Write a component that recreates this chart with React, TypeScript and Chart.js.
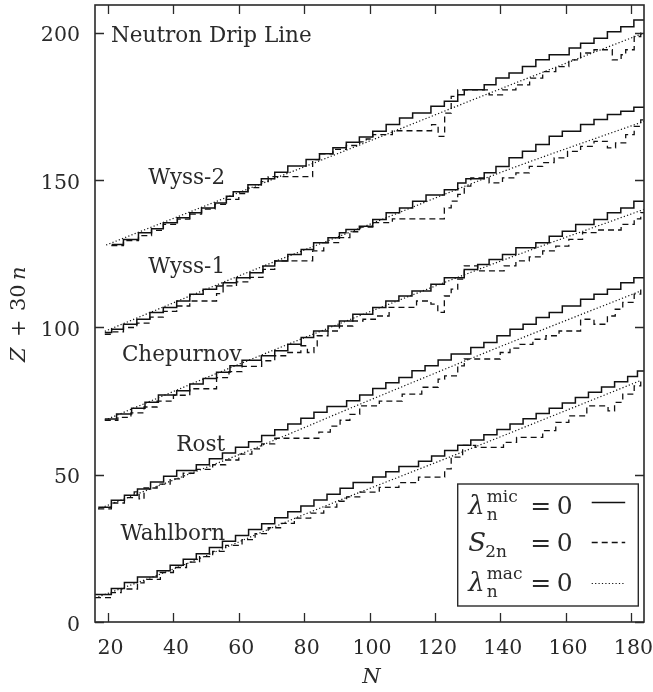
import React, { useEffect, useRef } from 'react';
import { Chart, registerables } from 'chart.js';

Chart.register(...registerables);

type Pt = [number, number];

// ---------- axes ----------
const xTicks = [20, 40, 60, 80, 100, 120, 140, 160, 180];
const yTicks = [0, 50, 100, 150, 200];

// ---------- models (shifted by 30 n) ----------
const models = ['Wahlborn', 'Rost', 'Chepurnov', 'Wyss-1', 'Wyss-2'];
const shiftN = [0, 1, 2, 3, 4];

// Wahlborn (n = 0): [N, Z]
const wahlbornMic: Pt[] = [[16,9.3],[21,11.4],[25,13.4],[29,15.3],[35,17.4],[39,19.3],[43,21.3],[47,23.2],[51,25.3],[55,27.4],[59,29.4],[63,31.4],[67,33.4],[71,35.4],[75,37.4],[79,39.4],[83,41.4],[87,43.4],[91,45.4],[95,47.4],[101,49.2],[105,51],[109,52.8],[115,54.6],[119,56.4],[123,58.2],[127,60],[131,61.8],[135,63.6],[139,65.4],[143,67.2],[147,69],[151,70.8],[155,72.6],[159,74.4],[163,76.2],[167,78],[171,79.8],[175,81.6],[179,83.4],[182,85.2],[184,85.2]];
const wahlbornS2n: Pt[] = [[16,8.3],[21,10],[24,11.2],[29,13.3],[31,14.5],[36,16.8],[40,18.5],[44,20.3],[48,22.2],[52,24],[56,26],[61,28],[65,30],[69,32],[73,33.5],[77,35.3],[82,37],[86,39],[90,41],[93,42.5],[97,44.1],[103,45.7],[109,47.3],[115,49.2],[123,52],[125,56],[128.5,60],[132.5,59.3],[141,61],[145,62.7],[153,65],[157,67.8],[161,70],[166.5,73.4],[173,71.7],[175,74.6],[177.5,77.4],[181,80.2],[183,81.9],[184,81.9]];
const wahlbornMac: Pt[] = [[17,8.5],[40,18],[80,36.5],[127,57.1],[183,82]];

// Rost (n = 1)
const rostMic: Pt[] = [[17,9],[21,11.3],[25,13],[29,15.2],[33,17.5],[37,19.5],[41,21.4],[47,23.4],[51,25.4],[55,27.4],[59,29.3],[63,31.2],[67,33.3],[71,35.3],[75,37.2],[79,39.2],[83,41.2],[87,43.2],[93,45.1],[97,47.1],[101,49.3],[105,51.2],[109,53],[113,55.3],[117,57],[121,59],[125,61],[131,63.2],[135,64.9],[139,67.2],[143,69.4],[147,71.1],[151,73.4],[155,75.1],[159,77.3],[164.6,79.6],[168.7,81.3],[172.8,83],[176.9,85.2],[180.9,86.9],[184,86.9]];
const rostS2n: Pt[] = [[17,8.4],[21,10.4],[25,12.2],[28,14.2],[29.5,11.8],[31,15.5],[35,16.8],[39,18.6],[43,20.5],[47,21.8],[52,23.4],[56,25],[60,27],[64,28.8],[67,30.5],[71,32.4],[84.5,34.5],[88,36.5],[91,38.5],[94,40.5],[97,43.4],[103,45],[110,47.4],[116,49.7],[121,52.5],[123,53.6],[127,57],[129,59.3],[140,61.5],[143,63],[146,64.3],[150,66],[154,67.2],[158,68.8],[164.6,72.8],[168.7,71.1],[172.8,73.9],[175.2,76.2],[177.5,78.5],[181,81.3],[183,83],[184,83]];
const rostMac: Pt[] = [[17,8.4],[40,18.2],[60,26.8],[100,45.3],[140,63.5],[183,82.4]];

// Chepurnov (n = 2)
const chepurnovMic: Pt[] = [[19,8.9],[22.6,10.6],[27.2,12.6],[31.3,14.6],[35.4,17.1],[41,18.5],[45,20.8],[49.1,22.7],[53.2,24.8],[57.3,27],[61,28.9],[66.9,30.4],[71,32.1],[75,34.3],[79.1,36.6],[82.9,38.8],[87.3,40.5],[90.8,42.2],[94.9,44.5],[101,46.8],[105,49],[109,50.7],[113,52.4],[118.8,54.7],[122.9,56.9],[129,59.7],[133.1,61.4],[136.6,63.1],[140.7,64.8],[144.8,67.1],[150.9,68.8],[155,71],[159,72.7],[163.1,75],[168.7,76.7],[172.8,79],[176.9,80.6],[180.9,82.9],[184,82.9]];
const chepurnovS2n: Pt[] = [[19,8.5],[23,9.5],[27,11],[31,13],[35,15],[40,17],[45,19.2],[53.2,23],[57,25],[61,26.8],[67,28.7],[71,30.4],[75,31.5],[79,33.8],[81,31.5],[83,33.8],[84,37.2],[87.3,38.8],[90.8,40.5],[94.9,42.2],[98,42.8],[101.8,43.9],[106,46.8],[114.4,49],[118.8,47.9],[120.9,45.1],[122.9,50.7],[125,53],[127,56.4],[129,60.9],[133.1,59.2],[141.2,60.9],[144.8,62.6],[148.9,64],[153,66],[157,67.6],[161,69.9],[165.2,72.2],[169.3,73.1],[177,75],[181,76.9],[183,79],[184,79]];
const chepurnovMac: Pt[] = [[19,8.5],[60,27.5],[97,44],[140,62.5],[184,80.1]];

// Wyss-1 (n = 3)
const wyss1Mic: Pt[] = [[19,8.3],[21.1,9.4],[24.7,11.1],[28.8,12.8],[32.8,15.1],[36.9,16.8],[41,19],[45,21.3],[49.1,23],[53.2,24.1],[55.2,25.2],[59.3,26.9],[63.4,28.6],[67.4,30.9],[71,32.6],[75,34.8],[79.1,36.5],[82.9,38.8],[87.3,40.5],[90.8,42.2],[92.8,43.3],[96.9,44.4],[101,46.7],[105.1,49],[109.2,50.6],[113.2,52.9],[117.3,55],[122.9,56.8],[127,59.1],[129.5,60.5],[135.1,62.5],[138.7,64.7],[142.7,67.6],[146.8,69.8],[150.9,72.1],[155,74.9],[159,76.6],[164.6,78.9],[168.7,80.6],[172.8,82.3],[176.9,83.4],[180.9,84.8],[184,84.8]];
const wyss1S2n: Pt[] = [[19,7.7],[21,8.5],[24.7,10],[28.8,11.5],[32.8,13.5],[36.9,15.5],[41,17.3],[45,19],[53.2,21.5],[55.2,24.1],[59.3,25.5],[63.4,27],[67.4,29.7],[71,32.6],[82.6,36],[86,38.8],[90.8,40.5],[94,42.5],[97,44.1],[101,45.6],[107,46.9],[122.9,50.6],[125,52.9],[127,55.2],[129,58],[131,60.8],[136.6,59.1],[140.7,60.8],[144.8,62.5],[148.9,64.7],[153,66],[156.5,67.6],[160.6,69.8],[164.6,71.5],[168.7,73.2],[172.8,71],[175.3,72.7],[178.4,75.5],[181,78.3],[183,80.5],[184,80.5]];
const wyss1Mac: Pt[] = [[19,8.7],[60,27.5],[100,45],[140,62.6],[184,80]];

// Wyss-2 (n = 4)
const wyss2Mic: Pt[] = [[21.1,8.2],[24.7,9.9],[29.3,12.2],[33.3,13.5],[36.9,15.6],[41.2,17.3],[45,19],[48.6,20.6],[52.7,22.3],[56.2,24.6],[58.3,26.1],[62.8,28.5],[66.9,30.5],[71,32.7],[75,34.8],[80.6,37],[84.7,39],[88.8,41],[92.9,42.9],[96.9,44.7],[101,46.6],[105.1,48.9],[109.2,51.1],[113.2,52.8],[118.8,55.1],[122.9,56.8],[127,59],[129,60.7],[135.1,62.4],[138.7,64.7],[142.7,66.4],[146.8,68.6],[150.9,70.9],[155,72.6],[161.1,74.9],[164.6,76.5],[168.7,78.2],[172.8,80.4],[176.9,82.1],[180.9,84.4],[184,84.4]];
const wyss2S2n: Pt[] = [[21,7.8],[24.7,9.5],[29.3,11.2],[33.3,13],[36.9,15],[41.2,16.8],[45,18.5],[48.6,20.2],[52.7,21.8],[56.2,23.5],[60,25.5],[62.8,27.5],[66.9,29.5],[69,31.2],[82.6,37],[84.7,39],[88.8,40.5],[92.9,41.8],[97,43],[99,44],[101,45.5],[107,46.8],[119,48.9],[121,44.9],[123,52.8],[125,58.5],[127,60.7],[136.6,59],[140.7,60.7],[144.8,62.4],[149,64.7],[153,66.9],[157,68.6],[161,70.9],[164.6,73.2],[168.7,74.3],[174.3,70.9],[177,72.6],[178.4,74.3],[181,78.8],[183,79.9],[184,79.9]];
const wyss2Mac: Pt[] = [[19.4,8],[60,25.8],[100,43.3],[140,61],[184,80]];

const micSets = [wahlbornMic, rostMic, chepurnovMic, wyss1Mic, wyss2Mic];
const s2nSets = [wahlbornS2n, rostS2n, chepurnovS2n, wyss1S2n, wyss2S2n];
const macSets = [wahlbornMac, rostMac, chepurnovMac, wyss1Mac, wyss2Mac];

// label anchors in data coords: [text, N, value, align]
const labelAnchors: [string, number, number, CanvasTextAlign][] = [
  ['Neutron Drip Line', 20.9, 197, 'left'],
  ['Wyss-2', 55.8, 148.7, 'right'],
  ['Wyss-1', 55.8, 118.5, 'right'],
  ['Chepurnov', 60.9, 88.6, 'right'],
  ['Rost', 55.8, 58.2, 'right'],
  ['Wahlborn', 55.8, 27.8, 'right'],
];

const INK = '#2a2a2a';
const LINE = '#111111';
const FAMILY = "'DejaVu Serif', serif";

const shifted = (pts: Pt[], n: number) => pts.map(([x, z]) => ({ x, y: z + 30 * n }));

const decor = {
  id: 'decor',
  afterDatasetsDraw(chart: any) {
    const { ctx, chartArea: a, scales } = chart;
    const xs = scales.x;
    const ys = scales.y;
    ctx.save();
    // frame
    ctx.strokeStyle = INK;
    ctx.lineWidth = 1.6;
    ctx.setLineDash([]);
    ctx.strokeRect(a.left, a.top, a.right - a.left, a.bottom - a.top);
    // inward ticks on all sides
    ctx.lineWidth = 1.3;
    ctx.beginPath();
    const tl = 9;
    for (const t of xTicks) {
      const px = Math.round(xs.getPixelForValue(t)) + 0.5;
      ctx.moveTo(px, a.bottom); ctx.lineTo(px, a.bottom - tl);
      ctx.moveTo(px, a.top); ctx.lineTo(px, a.top + tl);
    }
    for (const t of yTicks) {
      const py = Math.round(ys.getPixelForValue(t)) + 0.5;
      ctx.moveTo(a.left, py); ctx.lineTo(a.left + tl, py);
      ctx.moveTo(a.right, py); ctx.lineTo(a.right - tl, py);
    }
    ctx.stroke();

    // tick labels
    ctx.fillStyle = INK;
    ctx.font = `20.5px ${FAMILY}`;
    ctx.textBaseline = 'alphabetic';
    ctx.textAlign = 'center';
    for (const t of xTicks) ctx.fillText(String(t), xs.getPixelForValue(t) + 2.5, a.bottom + 32);
    ctx.textAlign = 'right';
    for (const t of yTicks) ctx.fillText(String(t), a.left - 15, ys.getPixelForValue(t) + 8.5);

    // x title
    ctx.textAlign = 'center';
    ctx.font = `italic 21px ${FAMILY}`;
    ctx.fillText('N', (a.left + a.right) / 2 + 2, a.bottom + 61);

    // y title (rotated, mixed styles)
    ctx.save();
    ctx.translate(25, 362);
    ctx.rotate(-Math.PI / 2);
    ctx.textAlign = 'left';
    ctx.font = `italic 21px ${FAMILY}`;
    ctx.fillText('Z', 0, 0);
    ctx.font = `21px ${FAMILY}`;
    ctx.fillText('+', 25, 0);
    ctx.fillText('30', 51, 0);
    ctx.font = `italic 21px ${FAMILY}`;
    ctx.fillText('n', 82, 0);
    ctx.restore();

    // model labels
    ctx.font = `21.5px ${FAMILY}`;
    for (const [txt, n, v, al] of labelAnchors) {
      ctx.textAlign = al;
      ctx.fillText(txt, xs.getPixelForValue(n), ys.getPixelForValue(v));
    }

    // legend box
    const bw = 180.6, bh = 122;
    const bx = a.right - 5.7 - bw;
    const by = a.bottom - 16 - bh;
    ctx.fillStyle = '#ffffff';
    ctx.fillRect(bx, by, bw, bh);
    ctx.strokeStyle = INK;
    ctx.lineWidth = 1.4;
    ctx.strokeRect(bx, by, bw, bh);
    ctx.fillStyle = INK;
    ctx.textAlign = 'left';
    const rows = [
      { main: 'λ', sup: 'mic', sub: 'n', base: 30, sample: 18, dash: [] as number[], w: 1.5 },
      { main: 'S', sup: '', sub: '2n', base: 67, sample: 58, dash: [6, 4], w: 1.3 },
      { main: 'λ', sup: 'mac', sub: 'n', base: 107, sample: 99, dash: [1.2, 2.2], w: 1.2 },
    ];
    for (const r of rows) {
      const yb = by + r.base;
      ctx.font = `italic 26px ${FAMILY}`;
      ctx.fillText(r.main, bx + 10.5, yb);
      ctx.font = `17px ${FAMILY}`;
      if (r.sup) ctx.fillText(r.sup, bx + 29, yb - 12);
      ctx.fillText(r.sub, bx + (r.main === 'S' ? 27.5 : 29), yb + 6);
      ctx.font = `25px ${FAMILY}`;
      ctx.fillText('=', bx + 72.5, yb);
      ctx.fillText('0', bx + 99, yb);
      ctx.save();
      ctx.strokeStyle = LINE;
      ctx.lineWidth = r.w;
      ctx.setLineDash(r.dash);
      ctx.beginPath();
      ctx.moveTo(bx + 134, by + r.sample + 0.5);
      ctx.lineTo(bx + 167.5, by + r.sample + 0.5);
      ctx.stroke();
      ctx.restore();
    }
    ctx.restore();
  },
};

export default function App() {
  const ref = useRef<HTMLCanvasElement | null>(null);
  useEffect(() => {
    const canvas = ref.current;
    if (!canvas) return;
    let alive = true;
    const datasets: any[] = [];
    models.forEach((name, i) => {
      const n = shiftN[i];
      datasets.push({
        label: `${name} λmic`,
        data: shifted(micSets[i], n),
        borderColor: LINE,
        borderWidth: 1.5,
        stepped: true,
        pointRadius: 0,
        fill: false,
      });
      datasets.push({
        label: `${name} S2n`,
        data: shifted(s2nSets[i], n),
        borderColor: LINE,
        borderWidth: 1.3,
        borderDash: [6, 4],
        stepped: true,
        pointRadius: 0,
        fill: false,
      });
      datasets.push({
        label: `${name} λmac`,
        data: shifted(macSets[i], n),
        borderColor: LINE,
        borderWidth: 1.2,
        borderDash: [1.2, 2.2],
        cubicInterpolationMode: 'monotone',
        pointRadius: 0,
        fill: false,
      });
    });
    const chart = new Chart(canvas, {
      type: 'line',
      data: { datasets },
      options: {
        animation: false,
        responsive: false,
        devicePixelRatio: 1,
        layout: { padding: { left: 95, right: 9, top: 5, bottom: 70 } },
        scales: {
          x: { type: 'linear', min: 16, max: 184, display: false },
          y: { type: 'linear', min: 0, max: 209.5, display: false },
        },
        plugins: {
          legend: { display: false },
          tooltip: { enabled: false },
        },
        events: [],
      },
      plugins: [decor],
    });
    const fonts = [`21px ${FAMILY}`, `italic 21px ${FAMILY}`];
    if ((document as any).fonts && (document as any).fonts.load) {
      Promise.all(fonts.map((f) => (document as any).fonts.load(f)))
        .then(() => { if (alive) chart.draw(); })
        .catch(() => {});
    }
    return () => { alive = false; chart.destroy(); };
  }, []);
  return (
    <div style={{ position: 'absolute', left: 0, top: 0, width: 653, height: 692, background: '#fff' }}>
      <canvas ref={ref} width={653} height={692} style={{ width: 653, height: 692, display: 'block' }} />
    </div>
  );
}
